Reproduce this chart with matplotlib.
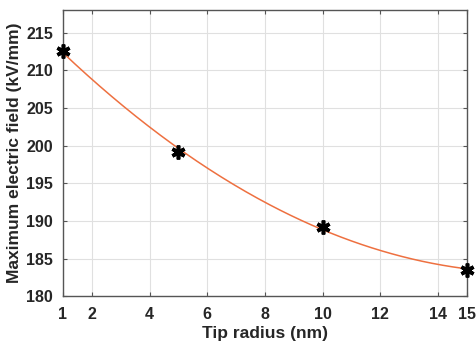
import numpy as np
import matplotlib
matplotlib.use("Agg")
import matplotlib.pyplot as plt

radius = [1, 5, 10, 15]
field = [212.5, 199.2, 189.2, 183.5]
xticks = [1, 2, 4, 6, 8, 10, 12, 14, 15]
yticks = [180, 185, 190, 195, 200, 205, 210, 215]

plt.rcParams['font.family'] = ['Liberation Sans', 'DejaVu Sans']
plt.rcParams['font.weight'] = 'bold'

fig = plt.figure(figsize=(4.77, 3.48), dpi=100)
ax = fig.add_axes([0.132, 0.149, 0.847, 0.822])

coef = np.polyfit(radius, field, 2)
xs = np.linspace(min(radius), max(radius), 200)
ax.plot(xs, np.polyval(coef, xs), color='#EE7040', lw=1.1, zorder=2)
ax.plot(radius, field, linestyle='none', marker=(6, 2, 0), markersize=10,
        mew=2.6, color='black', zorder=3, clip_on=False)

ax.set_xlim(1, 15)
ax.set_ylim(180, 218)
ax.set_xticks(xticks)
ax.set_yticks(yticks)
ax.grid(True, color='#e0e0e0', lw=0.8)
ax.set_axisbelow(True)
ax.tick_params(direction='in', top=True, right=True, length=3, width=0.8,
               color='#555555', labelsize=11.5)
ax.tick_params(axis='x', pad=8)
ax.tick_params(axis='y', pad=7)
for s in ax.spines.values():
    s.set_color('#555555')
    s.set_linewidth(1.0)
for lab in ax.get_xticklabels() + ax.get_yticklabels():
    lab.set_fontweight('bold')
    lab.set_color('#262626')
ax.set_xlabel('Tip radius (nm)', fontsize=12.5, fontweight='bold', color='#262626', labelpad=3)
ax.set_ylabel('Maximum electric field (kV/mm)', fontsize=12.5, fontweight='bold', color='#262626', labelpad=3)

fig.savefig('out.png', dpi=100)
